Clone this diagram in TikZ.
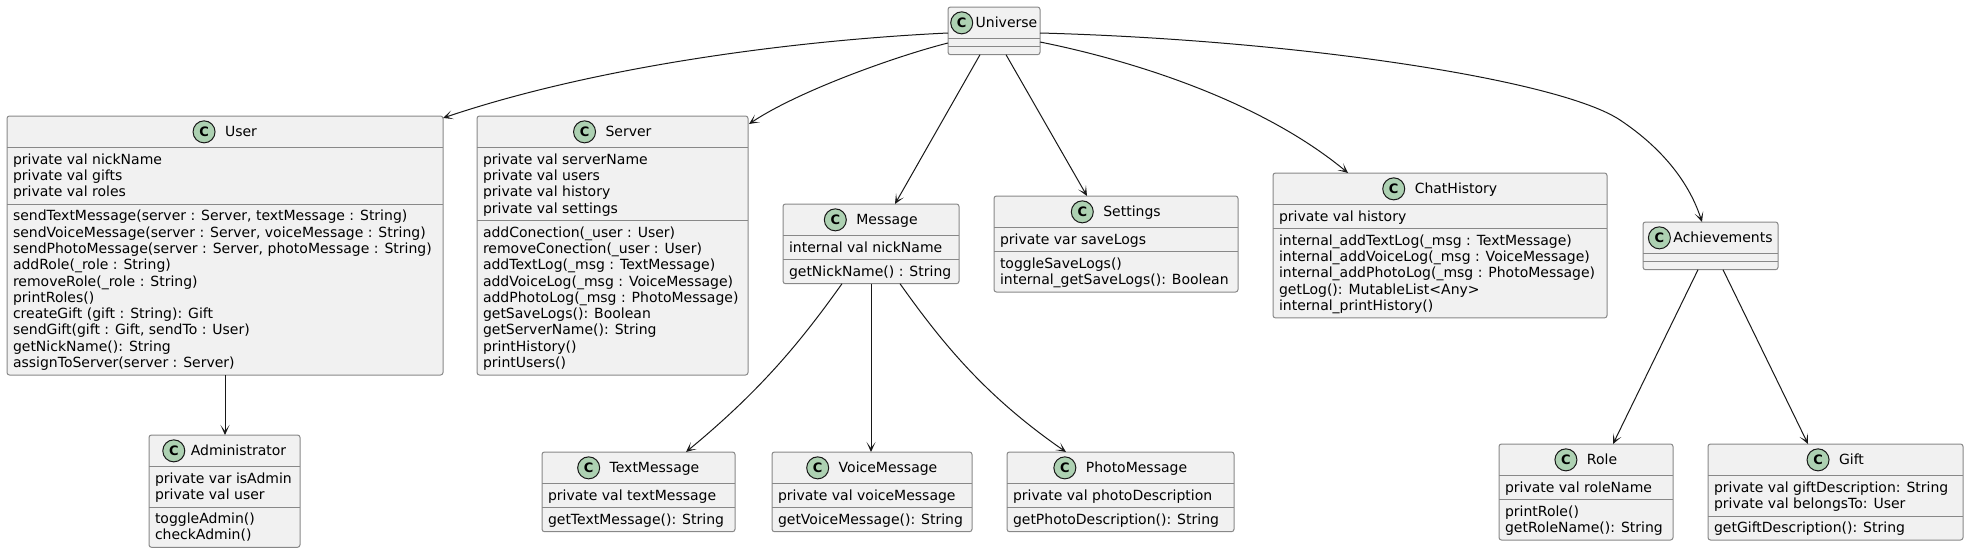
\documentclass[tikz,border=0pt]{standalone}
\usepackage{fontspec}
\setmainfont{DejaVu Sans}
\usetikzlibrary{calc,arrows.meta}
\definecolor{boxfill}{HTML}{F1F1F1}
\definecolor{boxline}{HTML}{888888}
\definecolor{edgecol}{HTML}{181818}
\definecolor{iconfill}{HTML}{ADD1B2}
\tikzset{
 classbox/.style={draw=boxline, fill=boxfill, line width=1pt, rounded corners=2.5pt, inner sep=0pt, outer sep=0pt},
 sepline/.style={draw=boxline, line width=1pt},
 txt/.style={inner sep=0pt, outer sep=0pt, font=\fontsize{14}{16.3}\selectfont, text=black},
 ccircle/.style={circle, draw=edgecol, fill=iconfill, line width=1pt, minimum size=22pt, inner sep=0pt, font=\bfseries\fontsize{13}{13}\selectfont},
 conn/.style={draw=edgecol, line width=1pt, -{Stealth[length=10pt,width=9pt,inset=6pt]}},
}
% #1 name, #2 left, #3 top, #4 width, #5 title, #6 n attrs, #7 attrs, #8 n methods, #9 methods
\newcommand\umlclass[9]{%
  \pgfmathsetmacro\hA{31.7}%
  \pgfmathsetmacro\hB{#6==0 ? 8 : #6*16.3+7.7}%
  \pgfmathsetmacro\hC{#8==0 ? 8 : #8*16.3+7.7}%
  \pgfmathsetmacro\hT{\hA+\hB+\hC}%
  \pgfmathsetmacro\yB{\hA+\hB}%
  \node[classbox, minimum width=#4pt, minimum height=\hT pt, anchor=north west] (#1) at (#2,#3) {};
  \draw[sepline] ($(#1.north west)+(0,\hA)$) -- ($(#1.north east)+(0,\hA)$);
  \draw[sepline] ($(#1.north west)+(0,\yB)$) -- ($(#1.north east)+(0,\yB)$);
  \pgfmathsetmacro\tx{(22+\tgap)/2}%
  \node[txt, anchor=base] (#1-title) at ($(#1.north)+(\tx,{\hA/2+5.1})$) {#5};
  \coordinate (#1-hc) at ($(#1.north west)+(0,{\hA/2})$);
  \coordinate (#1-cw) at ($(#1-title.west)+({-\tgap-11},0)$);
  \node[ccircle] (#1-icon) at (#1-cw |- #1-hc) {C};
  \ifnum#6>0
    \foreach \memb [count=\i] in {#7} {
      \node[txt, anchor=base west] (#1-a\i) at ($(#1.north west)+(6,{\hA+16.5+16.3*(\i-1)})$) {\memb};
    }
  \fi
  \ifnum#8>0
    \foreach \memb [count=\i] in {#9} {
      \node[txt, anchor=base west] (#1-m\i) at ($(#1.north west)+(6,{\yB+16.5+16.3*(\i-1)})$) {\memb};
    }
  \fi
}
\begin{document}
\begin{tikzpicture}[x=1pt,y=-1pt]
\useasboundingbox (0,0) rectangle (1968,554);
\def\tgap{3}
\umlclass{Universe}{948}{7}{92}{Universe}{0}{}{0}{}
\umlclass{Achievements}{1643}{222}{135}{Achievements}{0}{}{0}{}
\def\tgap{6}
\umlclass{Administrator}{149}{435}{151}{Administrator}{2}{{private var isAdmin},{private val user}}{2}{{toggleAdmin()},{checkAdmin()}}
\def\tgap{10}
\umlclass{User}{7}{116}{436}{User}{3}{{private val nickName},{private val gifts},{private val roles}}{10}{{sendTextMessage(server : Server, textMessage : String)},{sendVoiceMessage(server : Server, voiceMessage : String)},{sendPhotoMessage(server : Server, photoMessage : String)},{addRole(\_role : String)},{removeRole(\_role : String)},{printRoles()},{createGift (gift : String): Gift},{sendGift(gift : Gift, sendTo : User)},{getNickName(): String},{assignToServer(server : Server)}}
\umlclass{Server}{477}{116}{271}{Server}{4}{{private val serverName},{private val users},{private val history},{private val settings}}{9}{{addConection(\_user : User)},{removeConection(\_user : User)},{addTextLog(\_msg : TextMessage)},{addVoiceLog(\_msg : VoiceMessage)},{addPhotoLog(\_msg : PhotoMessage)},{getSaveLogs(): Boolean},{getServerName(): String},{printHistory()},{printUsers()}}
\umlclass{Message}{783}{204}{176}{Message}{1}{{internal val nickName}}{1}{{getNickName() : String}}
\umlclass{Settings}{994}{196}{244}{Settings}{1}{{private var saveLogs}}{2}{{toggleSaveLogs()},{internal\_getSaveLogs(): Boolean}}
\umlclass{ChatHistory}{1273}{173}{334}{ChatHistory}{1}{{private val history}}{5}{{internal\_addTextLog(\_msg : TextMessage)},{internal\_addVoiceLog(\_msg : VoiceMessage)},{internal\_addPhotoLog(\_msg : PhotoMessage)},{getLog(): MutableList<Any>},{internal\_printHistory()}}
\umlclass{TextMessage}{542}{452}{193}{TextMessage}{1}{{private val textMessage}}{1}{{getTextMessage(): String}}
\umlclass{VoiceMessage}{772}{452}{200}{VoiceMessage}{1}{{private val voiceMessage}}{1}{{getVoiceMessage(): String}}
\umlclass{PhotoMessage}{1007}{452}{227}{PhotoMessage}{1}{{private val photoDescription}}{1}{{getPhotoDescription(): String}}
\umlclass{Role}{1499}{444}{174}{Role}{1}{{private val roleName}}{2}{{printRole()},{getRoleName(): String}}
\umlclass{Gift}{1708}{444}{255}{Gift}{2}{{private val giftDescription: String},{private val belongsTo: User}}{1}{{getGiftDescription(): String}}

\draw[conn] ($(Universe.north west)+(0,26)$) .. controls +(-148,7) and +(157,-53) .. ($(User.north east)+(0,2)$);
\draw[conn] ($(Universe.north west)+(0,36)$) .. controls +(-48,12) and +(51,-34) .. ($(Server.north east)+(1,8)$);
\draw[conn] ($(Universe.south west)+(32,0)$) -- ($(Message.north west)+(112,0)$);
\draw[conn] ($(Universe.south west)+(58,0)$) -- ($(Settings.north west)+(93,0)$);
\draw[conn] ($(Universe.north east)+(0,35)$) .. controls +(90,18) and +(-88,-73) .. ($(ChatHistory.north west)+(75,0)$);
\coordinate (achbend) at (1620,120);
\draw[conn] ($(Universe.north east)+(0,26)$) .. controls +(260,7) and +(-60,-40) .. (achbend) .. controls +(45,30) and +(-12,-37) .. ($(Achievements.north west)+(59,0)$);
\draw[conn] (User.south) -- (User.south |- Administrator.north);
\draw[conn] ($(Message.south west)+(59,0)$) .. controls +(-42,59) and +(74,-61) .. ($(TextMessage.north west)+(144,0)$);
\draw[conn] (Message.south) -- (Message.south |- VoiceMessage.north);
\draw[conn] ($(Message.south west)+(117,0)$) .. controls +(42,59) and +(-81,-56) .. ($(PhotoMessage.north west)+(59,0)$);
\draw[conn] ($(Achievements.south west)+(55,0)$) -- ($(Role.north west)+(114,0)$);
\draw[conn] ($(Achievements.south west)+(80,0)$) -- ($(Gift.north west)+(100,0)$);
\end{tikzpicture}
\end{document}
